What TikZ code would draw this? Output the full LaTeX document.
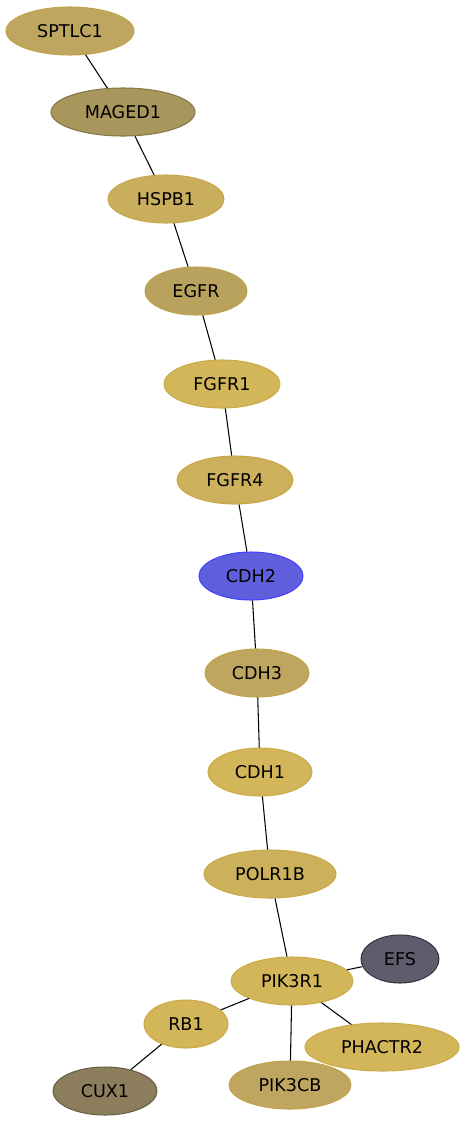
\documentclass[tikz,border=0pt]{standalone}
\usepackage{fontspec}
\setmainfont{DejaVu Sans}
\usetikzlibrary{shapes.geometric}
\definecolor{goldA}{HTML}{D4B65A}
\definecolor{goldB}{HTML}{CCB05C}
\definecolor{goldC}{HTML}{BFA660}
\definecolor{goldD}{HTML}{B8A25E}
\definecolor{goldE}{HTML}{A8965C}
\definecolor{goldF}{HTML}{C9AE5E}
\definecolor{cuxbrown}{HTML}{8C7E5C}
\definecolor{efsgrey}{HTML}{5F5C6E}
\definecolor{cdhblue}{HTML}{5F5FDD}
\definecolor{rimgold}{HTML}{C4A035}

\begin{document}
\begin{tikzpicture}[
  x=0.02cm, y=-0.02cm,
  gene/.style={ellipse,draw=#1!50!rimgold,fill=#1,line width=0.6pt,inner sep=0pt,minimum height=0.96cm,font=\fontsize{10}{12}\selectfont},
  w/.style={minimum width=#1*0.02cm},
  link/.style={draw=black,line width=0.6pt}
]
\useasboundingbox (0,0) rectangle (467,1123);
\node[gene=goldC,w=128] (sptlc1) at (70,31) {SPTLC1};
\node[gene=goldE,draw=goldE!80!black,w=144] (maged1) at (123,112) {MAGED1};
\node[gene=goldF,w=116] (hspb1) at (166,199) {HSPB1};
\node[gene=goldD,w=102] (egfr) at (196,291) {EGFR};
\node[gene=goldA,w=116] (fgfr1) at (222,384) {FGFR1};
\node[gene=goldB,w=116] (fgfr4) at (235,480) {FGFR4};
\node[gene=cdhblue,draw=blue!75!white,w=104] (cdh2) at (251,576) {CDH2};
\node[gene=goldC,w=104] (cdh3) at (257,673) {CDH3};
\node[gene=goldA,w=104] (cdh1) at (260,772) {CDH1};
\node[gene=goldB,w=132] (polr1b) at (270,874) {POLR1B};
\node[gene=goldA,w=122] (pik3r1) at (292,981) {PIK3R1};
\node[gene=efsgrey,draw=efsgrey!60!black,w=78] (efs) at (400,959) {EFS};
\node[gene=goldA,w=84] (rb1) at (186,1024) {RB1};
\node[gene=cuxbrown,draw=cuxbrown!75!black,w=104] (cux1) at (105,1091) {CUX1};
\node[gene=goldC,w=122] (pik3cb) at (290,1085) {PIK3CB};
\node[gene=goldA,w=154] (phactr2) at (382,1047) {PHACTR2};
% edges
\draw[link] (sptlc1) -- (maged1);
\draw[link] (maged1) -- (hspb1);
\draw[link] (hspb1) -- (egfr);
\draw[link] (egfr) -- (fgfr1);
\draw[link] (fgfr1) -- (fgfr4);
\draw[link] (fgfr4) -- (cdh2);
\draw[link] (cdh2) -- (cdh3);
\draw[link] (cdh3) -- (cdh1);
\draw[link] (cdh1) -- (polr1b);
\draw[link] (polr1b) -- (pik3r1);
\draw[link] (pik3r1) -- (efs);
\draw[link] (pik3r1) -- (rb1);
\draw[link] (pik3r1) -- (pik3cb);
\draw[link] (pik3r1) -- (phactr2);
\draw[link] (rb1) -- (cux1);
\end{tikzpicture}
\end{document}
